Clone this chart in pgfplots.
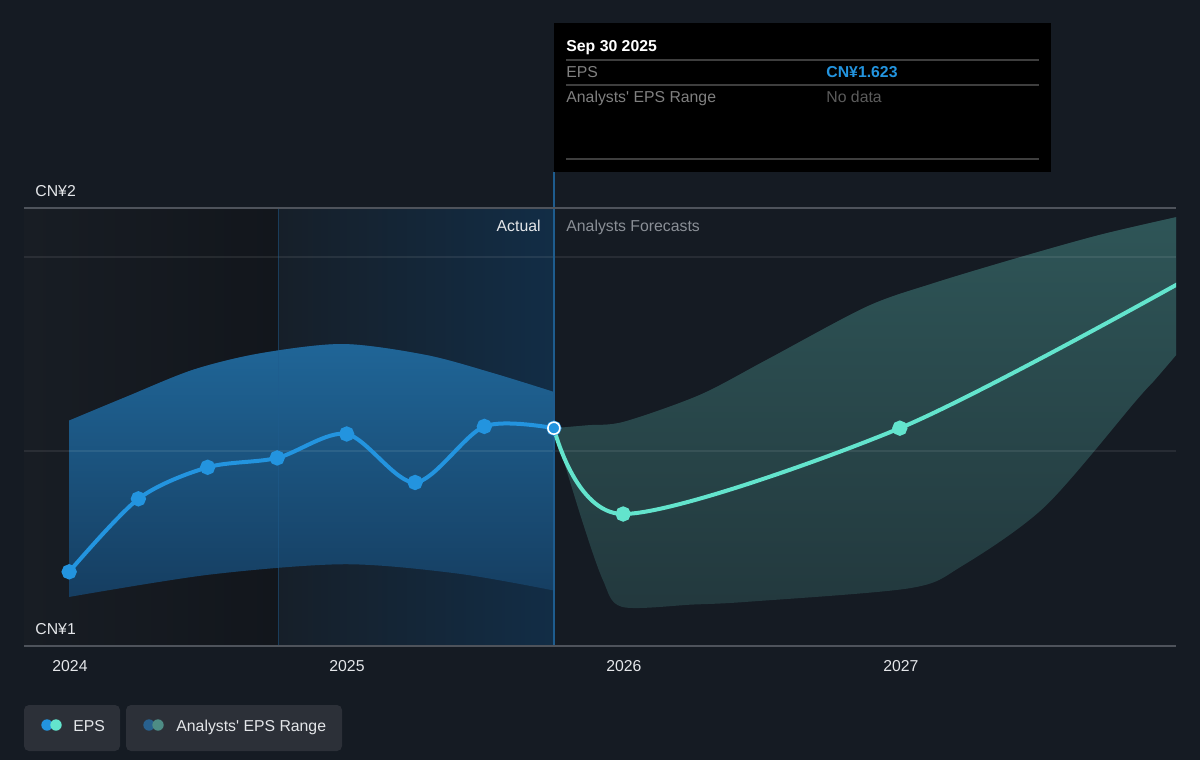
\documentclass[border=0pt]{standalone}
\usepackage{fontspec}
\setmainfont{Liberation Sans}
\usepackage{pgfplots}
\usepackage{pgfplotstable}
\pgfplotsset{compat=1.18}
\usepgfplotslibrary{fillbetween}
\usetikzlibrary{fadings}

\definecolor{bg}{RGB}{21,27,35}
\definecolor{eps}{RGB}{35,148,223}
\definecolor{fc}{RGB}{99,228,205}
\definecolor{axisc}{RGB}{78,83,91}
\definecolor{txt}{RGB}{228,230,233}
\definecolor{muted}{RGB}{138,143,150}
\definecolor{actTopC}{RGB}{32,102,152}
\definecolor{actBotC}{RGB}{22,62,97}
\definecolor{fcTopC}{RGB}{47,86,88}
\definecolor{fcBotC}{RGB}{35,57,62}
\definecolor{pastL}{RGB}{22,31,41}
\definecolor{pastR}{RGB}{18,45,70}
\definecolor{earlyL}{RGB}{24,29,36}
\definecolor{earlyR}{RGB}{18,22,28}
\definecolor{nowline}{RGB}{30,92,142}
\definecolor{legbox}{RGB}{44,48,56}
\definecolor{tipline}{RGB}{62,62,62}
\definecolor{tipgray}{RGB}{128,128,128}
\definecolor{tipdim}{RGB}{92,92,92}
\definecolor{rngA}{RGB}{40,96,142}
\definecolor{rngB}{RGB}{78,140,133}

\newcommand\fs{\fontsize{7.9pt}{9pt}\selectfont}

% reported EPS (quarter ends)
\pgfplotstableread{
x y
2023.997 1.377
2024.247 1.502
2024.497 1.556
2024.748 1.572
2024.999 1.613
2025.246 1.530
2025.496 1.626
2025.747 1.623
}\epsActual

% analyst consensus EPS
\pgfplotstableread{
x y
2025.747 1.623
2025.997 1.476
2026.996 1.623
2028.000 1.870
}\epsForecast

% range band around the reported values
\pgfplotstableread{
x y
2023.997 1.636
2024.205 1.677
2024.445 1.723
2024.686 1.751
2024.986 1.767
2025.288 1.748
2025.529 1.717
2025.747 1.685
}\actTop
\pgfplotstableread{
x y
2023.997 1.334
2024.500 1.372
2024.990 1.390
2025.400 1.374
2025.747 1.345
}\actBot

% analysts' high / low estimates
\pgfplotstableread{
x y
2025.747 1.623
2025.870 1.628
2026.000 1.634
2026.274 1.680
2026.515 1.740
2026.876 1.831
2027.116 1.871
2027.417 1.914
2027.718 1.954
2028.000 1.985
}\fcTop
\pgfplotstableread{
x y
2025.747 1.623
2025.848 1.466
2025.924 1.363
2025.993 1.317
2026.250 1.321
2026.455 1.326
2027.032 1.349
2027.217 1.386
2027.520 1.489
2027.850 1.671
2027.915 1.705
2028.000 1.752
}\fcBot

\begin{document}
\begin{tikzpicture}
\begin{scope}[x=0.5pt,y=-0.5pt]
  \fill[bg] (0,0) rectangle (1200,760);
\end{scope}

\begin{axis}[
  at={(12pt,-323pt)}, anchor=south west,
  scale only axis, width=576pt, height=237pt,
  xmin=2023.834, xmax=2027.993, ymin=1.25, ymax=2.0616,
  axis line style={draw=none},
  ytick=\empty,
  xtick={2024,2025,2026,2027},
  xticklabels={2024,2025,2026,2027},
  xtick pos=lower, tick align=outside,
  major tick length=3pt,
  tick style={axisc, line width=0.6pt},
  xticklabel style={font=\fs, text=txt, anchor=base, yshift=-9.5pt},
  fill between/on layer=main,
]
  % shaded periods
  \fill[left color=earlyL, right color=earlyR] (2023.834,1.25) rectangle (2024.751,2.0);
  \fill[left color=pastL, right color=pastR] (2024.751,1.25) rectangle (2025.747,2.0);

  % bands: solid base, lighter tone fading downwards on top
  \addplot[name path=aT, draw=none, smooth] table {\actTop};
  \addplot[name path=aB, draw=none, smooth] table {\actBot};
  \addplot[fill=actBotC, draw=none] fill between[of=aT and aB];
  \addplot[fill=actTopC, draw=none, path fading=south] fill between[of=aT and aB];

  \addplot[name path=fT, draw=none, smooth] table {\fcTop};
  \addplot[name path=fB, draw=none, smooth] table {\fcBot};
  \addplot[fill=fcBotC, draw=none] fill between[of=fT and fB];
  \addplot[fill=fcTopC, draw=none, path fading=south] fill between[of=fT and fB];

  % grid lines
  \draw[white, opacity=0.08, line width=0.6pt] (2023.834,1.584) -- (2027.993,1.584);
  \draw[white, opacity=0.08, line width=0.6pt] (2023.834,1.916) -- (2027.993,1.916);

  % period separators
  \draw[nowline, opacity=0.5, line width=0.5pt] (2024.751,1.25) -- (2024.751,2.0);
  \draw[nowline, line width=0.7pt] (2025.747,1.25) -- (2025.747,2.0616);

  % EPS lines
  \addplot[fc, line width=2pt, smooth, mark=*, mark size=2.8pt,
    mark options={fill=fc, draw=fc}, mark indices={2,3,4}] table {\epsForecast};
  \addplot[eps, line width=2pt, smooth, mark=*, mark size=2.8pt,
    mark options={fill=eps, draw=eps}] table {\epsActual};
  \addplot[only marks, mark=*, mark size=3pt,
    mark options={fill=eps, draw=white, line width=0.8pt}] coordinates {(2025.747,1.623)};
\end{axis}

\begin{scope}[x=0.5pt,y=-0.5pt, every node/.style={inner sep=0pt, font=\fs}]
  \draw[axisc, line width=1pt] (24,208) -- (1176,208);
  \draw[axisc, line width=1pt] (24,646) -- (1176,646);

  \node[anchor=base west, text=txt] at (35,196) {CN¥2};
  \node[anchor=base west, text=txt] at (35,634) {CN¥1};
  \node[anchor=base east, text=txt] at (541,231) {Actual};
  \node[anchor=base west, text=muted] at (566,231) {Analysts Forecasts};

  % tooltip
  \fill[black] (554,23) rectangle (1051,172);
  \node[anchor=base west, text=white, font=\fs\bfseries] at (566,51) {Sep 30 2025};
  \draw[tipline, line width=0.8pt] (566,60) -- (1039,60);
  \node[anchor=base west, text=tipgray] at (566,77) {EPS};
  \node[anchor=base west, text=eps, font=\fs\bfseries] at (826,77) {CN¥1.623};
  \draw[tipline, line width=0.8pt] (566,85) -- (1039,85);
  \node[anchor=base west, text=tipgray] at (566,102) {Analysts\textquotesingle{} EPS Range};
  \node[anchor=base west, text=tipdim] at (826,102) {No data};
  \draw[tipline, line width=0.8pt] (566,159) -- (1039,159);

  % legend
  \fill[legbox, rounded corners=2.5pt] (24,705) rectangle (120,751);
  \fill[legbox, rounded corners=2.5pt] (126,705) rectangle (342,751);
  \fill[eps] (47,725) circle (2.85pt);
  \fill[fc] (56,725) circle (2.85pt);
  \node[anchor=base west, text=txt] at (73,731) {EPS};
  \fill[rngA] (149,725) circle (2.85pt);
  \fill[rngB] (158,725) circle (2.85pt);
  \node[anchor=base west, text=txt] at (176,731) {Analysts\textquotesingle{} EPS Range};
\end{scope}

\pgfresetboundingbox
\path[use as bounding box] (0,0) rectangle (600pt,-380pt);
\end{tikzpicture}
\end{document}
